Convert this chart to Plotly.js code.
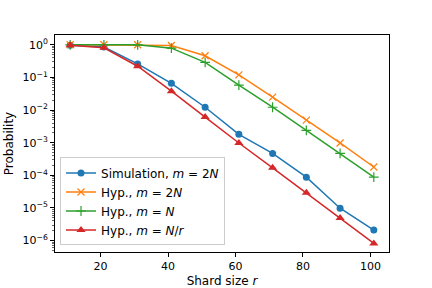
<!DOCTYPE html>
<html>
<head>
<meta charset="utf-8">
<script src="https://cdn.plot.ly/plotly-3.0.1.min.js"></script>
<style>html,body{margin:0;padding:0;background:#fff;}#chart{width:432px;height:288px;}</style>
</head>
<body>
<div id="chart"></div>
<script>
const shardSize = [11, 21, 31, 41, 51, 61, 71, 81, 91, 101];
const simulation2N = [0.97, 0.85, 0.26, 0.066, 0.0122, 0.0018, 0.00047, 0.000088, 0.0000098, 0.0000021];
const hyp2N = [1.0, 1.0, 1.0, 0.95, 0.46, 0.12, 0.025, 0.0049, 0.00098, 0.00018];
const hypN = [1.0, 1.0, 1.0, 0.79, 0.29, 0.058, 0.0122, 0.0024, 0.00047, 0.000088];
const hypNr = [0.97, 0.81, 0.22, 0.038, 0.0061, 0.00098, 0.00017, 0.000029, 0.0000049, 0.00000082];
const yTickVals = [1, 0.1, 0.01, 0.001, 0.0001, 0.00001, 0.000001];
const yTickText = ['10<sup>0</sup>', '10<sup>−1</sup>', '10<sup>−2</sup>', '10<sup>−3</sup>', '10<sup>−4</sup>', '10<sup>−5</sup>', '10<sup>−6</sup>'];
const xTickVals = [20, 40, 60, 80, 100];

const traces = [
  {x: shardSize, y: simulation2N, name: 'Simulation, <i>m</i> = 2<i>N</i>', mode: 'lines+markers',
   line: {color: '#1f77b4', width: 1.5}, marker: {symbol: 'circle', size: 7, color: '#1f77b4'}},
  {x: shardSize, y: hyp2N, name: 'Hyp., <i>m</i> = 2<i>N</i>', mode: 'lines+markers',
   line: {color: '#ff7f0e', width: 1.5}, marker: {symbol: 'x-thin', size: 7, color: '#ff7f0e', line: {color: '#ff7f0e', width: 1.2}}},
  {x: shardSize, y: hypN, name: 'Hyp., <i>m</i> = <i>N</i>', mode: 'lines+markers',
   line: {color: '#2ca02c', width: 1.5}, marker: {symbol: 'cross-thin', size: 7, color: '#2ca02c', line: {color: '#2ca02c', width: 1.2}}},
  {x: shardSize, y: hypNr, name: 'Hyp., <i>m</i> = <i>N</i>/<i>r</i>', mode: 'lines+markers',
   line: {color: '#d62728', width: 1.5}, marker: {symbol: 'triangle-up', size: 8, color: '#d62728'}}
];

const layout = {
  width: 432, height: 288,
  margin: {l: 55, r: 43, t: 35, b: 36, pad: 0},
  paper_bgcolor: '#fff', plot_bgcolor: '#fff',
  font: {family: 'DejaVu Sans, sans-serif', size: 11, color: '#000'},
  showlegend: true,
  legend: {x: 0.015, y: 0.03, xanchor: 'left', yanchor: 'bottom', bgcolor: 'rgba(255,255,255,0.8)',
    bordercolor: '#cccccc', borderwidth: 1, font: {size: 12}, itemwidth: 30},
  xaxis: {range: [6.5, 105.5], tickvals: xTickVals, ticks: 'outside', ticklen: 4, tickwidth: 1,
    tickcolor: '#000', showline: true, linecolor: '#000', linewidth: 1, mirror: true,
    showgrid: false, zeroline: false, tickfont: {size: 11},
    title: {text: 'Shard size <i>r</i>', font: {size: 12}, standoff: 5}},
  yaxis: {type: 'log', range: [-6.35, 0.3], tickvals: yTickVals, ticktext: yTickText,
    ticks: 'outside', ticklen: 4, tickwidth: 1, tickcolor: '#000', showline: true,
    linecolor: '#000', linewidth: 1, mirror: true, showgrid: false, zeroline: false, tickfont: {size: 11},
    minor: {ticks: 'outside', ticklen: 2, tickwidth: 0.6, tickcolor: '#000', dtick: 'D1', showgrid: false},
    title: {text: 'Probability', font: {size: 12}, standoff: 6}}
};

Plotly.newPlot('chart', traces, layout, {displayModeBar: false, staticPlot: true});
</script>
</body>
</html>
